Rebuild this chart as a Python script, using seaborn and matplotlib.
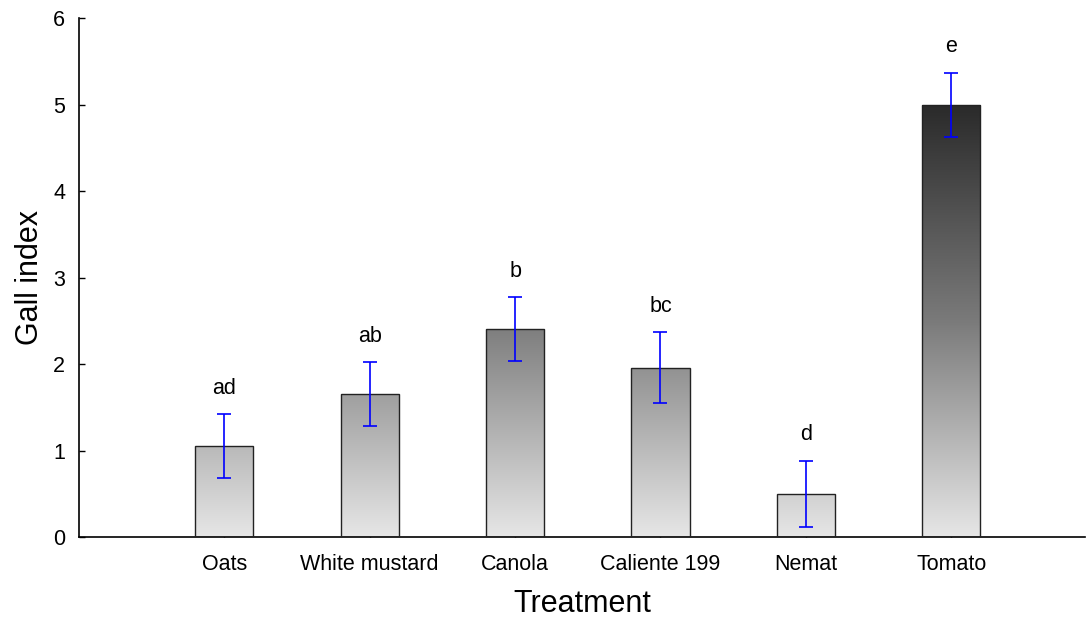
import numpy as np
import pandas as pd
import matplotlib
matplotlib.use("Agg")
import matplotlib.pyplot as plt
import seaborn as sns
from matplotlib.colors import LinearSegmentedColormap

treatments = ["Oats", "White mustard", "Canola", "Caliente 199", "Nemat", "Tomato"]
gall_index = [1.05, 1.65, 2.40, 1.96, 0.50, 5.00]
std_error = [0.37, 0.37, 0.37, 0.41, 0.38, 0.37]
groups = ["ad", "ab", "b", "bc", "d", "e"]

df = pd.DataFrame({"Treatment": treatments, "Gall index": gall_index})

sns.set_style("white")
plt.rcParams["font.family"] = ["Liberation Sans", "DejaVu Sans"]
plt.rcParams["text.color"] = "black"
plt.rcParams["axes.labelcolor"] = "black"
plt.rcParams["xtick.color"] = "black"
plt.rcParams["ytick.color"] = "black"

fig = plt.figure(figsize=(10.88, 6.18), dpi=100)
ax = fig.add_axes([0.0726, 0.131, 0.9246, 0.8398])

sns.barplot(data=df, x="Treatment", y="Gall index", width=0.4,
            color="white", edgecolor="#222222", linewidth=1.0, ax=ax,
            errorbar=None, zorder=2)

# grey ramp in data units: light at 0, near-black at 5
cmap = LinearSegmentedColormap.from_list(
    "ramp", [(0.0, "#e6e6e6"), (0.5, "#7a7a7a"), (1.0, "#2a2a2a")])
grad = np.linspace(0, 1, 256).reshape(-1, 1)
for patch in ax.patches:
    x0 = patch.get_x()
    w = patch.get_width()
    im = ax.imshow(grad, cmap=cmap, origin="lower", aspect="auto",
                   extent=[x0, x0 + w, 0, 5], zorder=2.5, interpolation="bilinear")
    im.set_clip_path(patch)
    patch.set_zorder(3)
    patch.set_facecolor("none")

x = np.arange(len(treatments))
ax.errorbar(x, gall_index, yerr=std_error, fmt="none", ecolor="#0000ff",
            elinewidth=1.2, capsize=5, capthick=1.2, zorder=4)

for xi, v, e, g in zip(x, gall_index, std_error, groups):
    ax.text(xi, v + e + 0.3, g, ha="center", va="center", fontsize=15.5, color="black")

ax.set_xlim(-1, 5.92)
ax.set_ylim(0, 6)
ax.set_yticks(range(0, 7))
ax.set_xlabel("Treatment", fontsize=22, labelpad=10)
ax.set_ylabel("Gall index", fontsize=22, labelpad=6)
ax.tick_params(axis="both", direction="in", length=4, width=1, color="black",
               labelsize=15.5, labelcolor="black")
ax.tick_params(axis="x", pad=12)
ax.tick_params(axis="y", pad=10)
ax.tick_params(bottom=True, left=True)
for s in ["top", "right"]:
    ax.spines[s].set_visible(False)
for s in ["left", "bottom"]:
    ax.spines[s].set_color("black")
    ax.spines[s].set_linewidth(1.2)

fig.savefig("out.png", dpi=100)
